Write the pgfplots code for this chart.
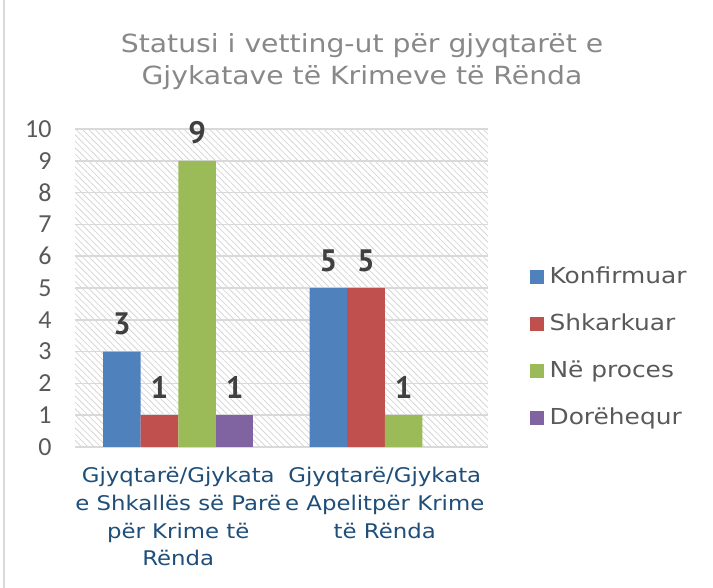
\documentclass[border=0pt]{standalone}
\usepackage{pgfplots}
\pgfplotsset{compat=1.18}
\usepackage{fontspec}
\setmainfont[FakeStretch=1.13]{DejaVu Sans}
\newfontfamily\numfont{Carlito}
\newfontfamily\labfont{PT Sans}
\usetikzlibrary{patterns.meta}
\definecolor{cBlue}{HTML}{4F81BD}
\definecolor{cRed}{HTML}{C0504D}
\definecolor{cGreen}{HTML}{9BBB59}
\definecolor{cPurple}{HTML}{8064A2}
\definecolor{titlegray}{HTML}{888888}
\definecolor{tickgray}{HTML}{595959}
\definecolor{labgray}{HTML}{404040}
\definecolor{gridgray}{HTML}{D9D9D9}
\definecolor{hatchgray}{HTML}{D6D6D6}
\definecolor{catblue}{HTML}{1F4E79}
\pgfplotsset{
  mybar/.style={ybar, bar width=0.182, bar shift=0pt, draw=none,
    legend image code/.code={\fill[##1] (0pt,-7pt) rectangle (14pt,7pt); \path (18pt,0pt);},
    nodes near coords,
    nodes near coords style={font=\labfont\bfseries\fontsize{31}{31}\selectfont, text=labgray, yshift=13pt}},
}
\begin{document}
\begin{tikzpicture}[x=1pt,y=1pt]
\path[use as bounding box] (0,0) rectangle (713,588);
\draw[color=gridgray, line width=1.5pt] (4,0) -- (4,588);
\node[align=center, text=titlegray, font=\fontsize{25}{32}\selectfont] at (362,526)
  {Statusi i vetting-ut për gjyqtarët e\\Gjykatave të Krimeve të Rënda};
\begin{axis}[
  at={(75pt,141pt)}, anchor=south west,
  scale only axis, width=413pt, height=318pt,
  xmin=-0.5, xmax=1.5, ymin=0, ymax=10,
  xtick={0,1},
  xticklabels={{Gjyqtarë/Gjykata\\e Shkallës së Parë\\për Krime të\\Rënda},{Gjyqtarë/Gjykata\\e Apelitpër Krime\\të Rënda}},
  ytick={0,1,...,10},
  yticklabel={\numfont\fontsize{26}{26}\selectfont\pgfmathprintnumber{\tick}},
  /pgf/number format/assume math mode=true,
  ymajorgrids, grid style={color=gridgray, line width=1.5pt},
  axis line style={draw=none},
  major tick length=0pt,
  axis background/.style={pattern={Lines[angle=-45,distance=4.5pt,line width=0.8pt]}, pattern color=hatchgray},
  yticklabel style={text=tickgray, anchor=east, xshift=-20pt},
  xticklabel style={font=\fontsize{20.2}{27.7}\selectfont, text=catblue, align=center, yshift=-17pt},
  legend style={at={(1.093,0.312)}, anchor=west, draw=none, fill=none,
    font=\fontsize{22}{30}\selectfont, text=tickgray, row sep=20pt,
    nodes={text height=18pt, text depth=5pt}},
  legend cell align=left,
]
\addplot[mybar, fill=cBlue] coordinates {(-0.273,3) (0.727,5)};
\addplot[mybar, fill=cRed] coordinates {(-0.091,1) (0.909,5)};
\addplot[mybar, fill=cGreen] coordinates {(0.091,9) (1.091,1)};
\addplot[mybar, fill=cPurple] coordinates {(0.273,1)};
\legend{Konfirmuar, Shkarkuar, Në proces, Dorëhequr}
\end{axis}
\end{tikzpicture}
\end{document}
